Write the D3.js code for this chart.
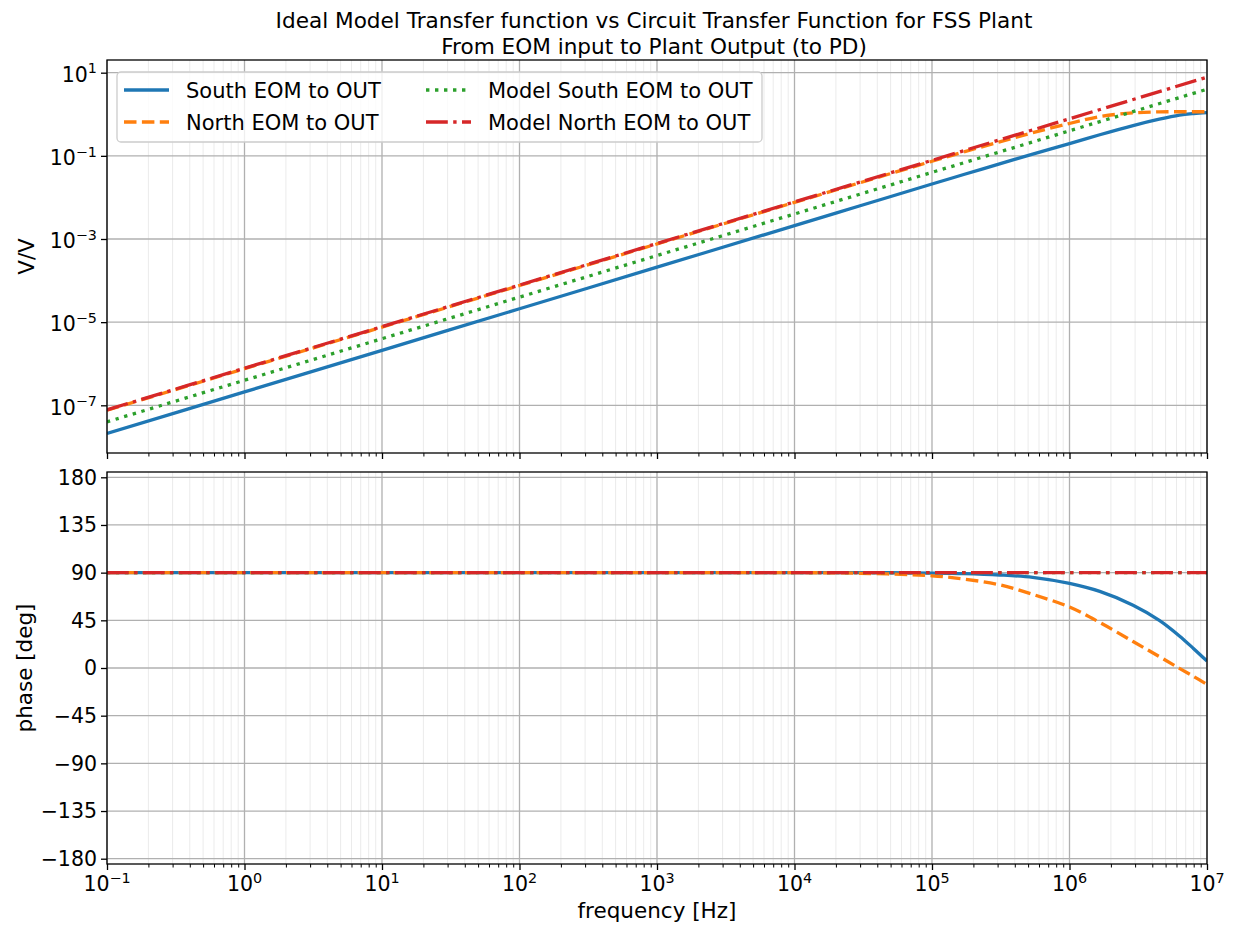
<!DOCTYPE html>
<html><head><meta charset="utf-8">
<script src="https://cdn.jsdelivr.net/npm/d3@7"></script>
<style>
body{margin:0;background:#fff;}
text{font-family:"DejaVu Sans",sans-serif;fill:#000;}
</style>
</head><body>
<svg id="c" width="1239" height="926"></svg>
<script>
// ---------- data ----------
const freq = [0.1, 1, 10, 100, 1e3, 1e4, 3e4, 1e5, 1.7e5, 3.1e5, 5.4e5, 1e6, 1.66e6, 2.9e6, 4.5e6, 6.3e6, 8e6, 1e7];
const southMag = [2.1e-8, 2.1e-7, 2.1e-6, 2.1e-5, 2.1e-4, 2.1e-3, 6.3e-3, 0.021, 0.0355, 0.064, 0.11, 0.197, 0.322, 0.535, 0.76, 0.95, 1.04, 1.1];
const northMag = [7.6e-8, 7.6e-7, 7.6e-6, 7.6e-5, 7.6e-4, 7.6e-3, 0.0226, 0.074, 0.124, 0.216, 0.36, 0.6, 0.88, 1.08, 1.14, 1.15, 1.15, 1.15];
const southPhase = [90, 90, 90, 90, 90, 90, 90, 89.6, 89.1, 87.8, 85.5, 79.8, 72.3, 59.3, 45, 30.3, 18.2, 6.5];
const northPhase = [90, 90, 90, 90, 90, 90, 89.4, 87, 84, 78.5, 69.5, 57.5, 43, 25, 10.8, -0.3, -8, -15.5];
const modelFreq = [0.1, 1, 10, 100, 1e3, 1e4, 1e5, 1e6, 1e7];
const modelSouthMag = [4e-8, 4e-7, 4e-6, 4e-5, 4e-4, 4e-3, 0.04, 0.4, 4.0];
const modelNorthMag = [7.8e-8, 7.8e-7, 7.8e-6, 7.8e-5, 7.8e-4, 7.8e-3, 0.078, 0.78, 7.8];
const modelSouthPhase = [90, 90, 90, 90, 90, 90, 90, 90, 90];
const modelNorthPhase = [90, 90, 90, 90, 90, 90, 90, 90, 90];
const seriesNames = ["South EOM to OUT", "North EOM to OUT", "Model South EOM to OUT", "Model North EOM to OUT"];
const seriesColors = ["#1f77b4", "#ff7f0e", "#2ca02c", "#d62728"];
const xTickExps = [-1, 0, 1, 2, 3, 4, 5, 6, 7];
const magTickExps = [1, -1, -3, -5, -7];
const phaseTicks = [-180, -135, -90, -45, 0, 45, 90, 135, 180];
const titleLines = ["Ideal Model Transfer function vs Circuit Transfer Function for FSS Plant", "From EOM input to Plant Output (to PD)"];

// ---------- layout ----------
const W = 1239, H = 926;
const L = 107, R = 1207;
const T1 = 60, B1 = 453, T2 = 472, B2 = 864;
const TICKFS = 20.5, LEGFS = 21, LABFS = 21.5, TITLEFS = 21.6;
const dashes = [null, "12.5,5.4", "3.4,5.6", "21.8,5.4,3.4,5.4"];
const LW = 3.3;

const svg = d3.select("#c");
svg.append("rect").attr("width", W).attr("height", H).attr("fill", "#fff");

const x = d3.scaleLog().domain([0.1, 1e7]).range([L, R]);
const yMag = d3.scaleLog().domain([Math.pow(10, -8.147), Math.pow(10, 1.305)]).range([B1, T1]);
const yPh = d3.scaleLinear().domain([-185, 185]).range([B2, T2]);

const minorX = [];
for (let e = -1; e < 7; e++) for (let m = 2; m <= 9; m++) minorX.push(m * Math.pow(10, e));
const majorX = xTickExps.map(e => Math.pow(10, e));

const defs = svg.append("defs");
defs.append("clipPath").attr("id", "clip1").append("rect").attr("x", L).attr("y", T1).attr("width", R - L).attr("height", B1 - T1);
defs.append("clipPath").attr("id", "clip2").append("rect").attr("x", L).attr("y", T2).attr("width", R - L).attr("height", B2 - T2);

function panel(top, bot, yScale, yGrid) {
  const g = svg.append("g");
  g.selectAll(".mg").data(minorX).enter().append("line")
    .attr("x1", d => x(d)).attr("x2", d => x(d)).attr("y1", top).attr("y2", bot)
    .attr("stroke", "#ebebeb").attr("stroke-width", 1);
  g.selectAll(".Mg").data(majorX).enter().append("line")
    .attr("x1", d => x(d)).attr("x2", d => x(d)).attr("y1", top).attr("y2", bot)
    .attr("stroke", "#b0b0b0").attr("stroke-width", 1.3);
  g.selectAll(".yg").data(yGrid).enter().append("line")
    .attr("x1", L).attr("x2", R).attr("y1", d => yScale(d)).attr("y2", d => yScale(d))
    .attr("stroke", "#b0b0b0").attr("stroke-width", 1.3);
  const xa = svg.append("g").attr("transform", `translate(0,${bot})`)
    .call(d3.axisBottom(x).tickValues(majorX).tickSize(6).tickSizeOuter(0).tickFormat(""));
  xa.select(".domain").remove();
  xa.selectAll("line").attr("stroke", "#000").attr("stroke-width", 1.3);
  const xm = svg.append("g").attr("transform", `translate(0,${bot})`)
    .call(d3.axisBottom(x).tickValues(minorX).tickSize(3.5).tickSizeOuter(0).tickFormat(""));
  xm.select(".domain").remove();
  xm.selectAll("line").attr("stroke", "#000").attr("stroke-width", 1);
  const ya = svg.append("g").attr("transform", `translate(${L},0)`)
    .call(d3.axisLeft(yScale).tickValues(yGrid).tickSize(6).tickSizeOuter(0).tickFormat(""));
  ya.select(".domain").remove();
  ya.selectAll("line").attr("stroke", "#000").attr("stroke-width", 1.3);
}

panel(T1, B1, yMag, magTickExps.map(e => Math.pow(10, e)));
panel(T2, B2, yPh, phaseTicks);

// ---------- lines ----------
const curve = d3.curveCatmullRom.alpha(0.5);
const lineMag = d3.line().x(d => x(d[0])).y(d => yMag(d[1])).curve(curve);
const linePh = d3.line().x(d => x(d[0])).y(d => yPh(d[1])).curve(curve);
const magData = [
  freq.map((f, i) => [f, southMag[i]]),
  freq.map((f, i) => [f, northMag[i]]),
  modelFreq.map((f, i) => [f, modelSouthMag[i]]),
  modelFreq.map((f, i) => [f, modelNorthMag[i]])
];
const phData = [
  freq.map((f, i) => [f, southPhase[i]]),
  freq.map((f, i) => [f, northPhase[i]]),
  modelFreq.map((f, i) => [f, modelSouthPhase[i]]),
  modelFreq.map((f, i) => [f, modelNorthPhase[i]])
];
const g1 = svg.append("g").attr("clip-path", "url(#clip1)");
const g2 = svg.append("g").attr("clip-path", "url(#clip2)");
for (let i = 0; i < 4; i++) {
  g1.append("path").attr("d", lineMag(magData[i])).attr("fill", "none")
    .attr("stroke", seriesColors[i]).attr("stroke-width", LW).attr("stroke-dasharray", dashes[i]);
  g2.append("path").attr("d", linePh(phData[i])).attr("fill", "none")
    .attr("stroke", seriesColors[i]).attr("stroke-width", LW).attr("stroke-dasharray", dashes[i]);
}

// ---------- spines ----------
[[T1, B1], [T2, B2]].forEach(([t, b]) => {
  svg.append("rect").attr("x", L).attr("y", t).attr("width", R - L).attr("height", b - t)
    .attr("fill", "none").attr("stroke", "#000").attr("stroke-width", 1.3);
});

// ---------- tick labels ----------
function supLabel(sel, exp) {
  sel.append("tspan").text("10");
  sel.append("tspan").attr("font-size", TICKFS * 0.7).attr("dy", -8.5)
    .text(exp < 0 ? "\u2212" + Math.abs(exp) : String(exp));
}
xTickExps.forEach(e => {
  const t = svg.append("text").attr("x", x(Math.pow(10, e))).attr("y", 891)
    .attr("text-anchor", "middle").attr("font-size", TICKFS);
  supLabel(t, e);
});
magTickExps.forEach(e => {
  const t = svg.append("text").attr("x", 97).attr("y", yMag(Math.pow(10, e)) + 9.3)
    .attr("text-anchor", "end").attr("font-size", TICKFS);
  supLabel(t, e);
});
phaseTicks.forEach(v => {
  svg.append("text").attr("x", 97).attr("y", yPh(v) + 7.3)
    .attr("text-anchor", "end").attr("font-size", TICKFS)
    .text(v < 0 ? "\u2212" + Math.abs(v) : String(v));
});

// ---------- axis labels & title ----------
svg.append("text").attr("x", (L + R) / 2).attr("y", 918).attr("text-anchor", "middle")
  .attr("font-size", LABFS).text("frequency [Hz]");
svg.append("text").attr("transform", `translate(34,${(T1 + B1) / 2}) rotate(-90)`)
  .attr("text-anchor", "middle").attr("font-size", LABFS).text("V/V");
svg.append("text").attr("transform", `translate(32,${(T2 + B2) / 2}) rotate(-90)`)
  .attr("text-anchor", "middle").attr("font-size", LABFS).text("phase [deg]");
titleLines.forEach((s, i) => {
  svg.append("text").attr("x", 654).attr("y", 27.5 + i * 26.5).attr("text-anchor", "middle")
    .attr("font-size", TITLEFS).text(s);
});

// ---------- legend ----------
const lg = svg.append("g");
lg.append("rect").attr("x", 117).attr("y", 72).attr("width", 645).attr("height", 70).attr("rx", 4)
  .attr("fill", "#fff").attr("fill-opacity", 0.8).attr("stroke", "#cccccc").attr("stroke-width", 1.3);
const legPos = [[124, 90], [124, 122], [426, 90], [426, 122]];
seriesNames.forEach((n, i) => {
  const [lx, ly] = legPos[i];
  lg.append("line").attr("x1", lx).attr("x2", lx + 45).attr("y1", ly).attr("y2", ly)
    .attr("stroke", seriesColors[i]).attr("stroke-width", LW).attr("stroke-dasharray", dashes[i]);
  lg.append("text").attr("x", lx + 62).attr("y", ly + 7.8).attr("font-size", LEGFS).text(n);
});
</script>
</body></html>
